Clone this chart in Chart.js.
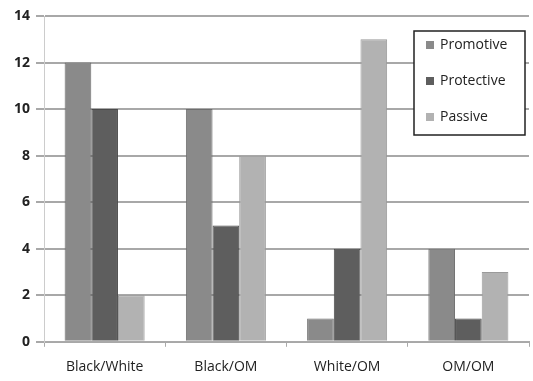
<!DOCTYPE html>
<html>
<head>
<meta charset="utf-8">
<script src="https://cdn.jsdelivr.net/npm/chart.js@4"></script>
<style>
  html, body { margin: 0; padding: 0; background: #fff; }
  #wrap { width: 533px; height: 381px; }
</style>
</head>
<body>
<div id="wrap"><canvas id="chart"></canvas></div>
<script>
const categories = ['Black/White', 'Black/OM', 'White/OM', 'OM/OM'];
const promotive = [12, 10, 1, 4];
const protective = [10, 5, 4, 1];
const passive = [2, 8, 13, 3];
const seriesNames = ['Promotive', 'Protective', 'Passive'];

const fills = ['#8a8a8a', '#5e5e5e', '#b2b2b2'];
const edges = ['#6e6e6e', '#4a4a4a', '#9a9a9a'];

// legend box drawn inside the plot, top right
const boxLegend = {
    id: 'boxLegend',
    afterDraw(chart) {
        const ctx = chart.ctx;
        const x = 414, y = 31, w = 111, h = 104;
        ctx.save();
        ctx.fillStyle = '#fff';
        ctx.fillRect(x, y, w, h);
        ctx.strokeStyle = '#222';
        ctx.lineWidth = 1.5;
        ctx.strokeRect(x, y, w, h);
        ctx.font = '14px "Open Sans", sans-serif';
        ctx.textBaseline = 'middle';
        chart.data.datasets.forEach((ds, i) => {
            const cy = y + 14 + i * 36;
            ctx.fillStyle = ds.backgroundColor;
            ctx.fillRect(x + 12, cy - 4, 8, 8);
            ctx.fillStyle = '#222';
            ctx.fillText(ds.label, x + 26, cy);
        });
        ctx.restore();
    }
};

const ctx = document.getElementById('chart').getContext('2d');
new Chart(ctx, {
    type: 'bar',
    data: {
        labels: categories,
        datasets: [promotive, protective, passive].map((d, i) => ({
            label: seriesNames[i],
            data: d,
            backgroundColor: fills[i],
            borderColor: edges[i],
            borderWidth: 1,
            barPercentage: 1,
            categoryPercentage: 0.66
        }))
    },
    options: {
        responsive: true,
        maintainAspectRatio: false,
        animation: false,
        layout: { padding: { top: 16, right: 4, left: 8, bottom: -6 } },
        plugins: {
            legend: { display: false },
            tooltip: { enabled: false }
        },
        scales: {
            x: {
                grid: {
                    offset: true,
                    drawOnChartArea: false,
                    color: '#aaa',
                    tickLength: 5
                },
                border: { color: '#aaa', width: 1 },
                ticks: {
                    color: '#222',
                    padding: 18,
                    font: { family: '"Open Sans", sans-serif', size: 14, lineHeight: 0.3 }
                }
            },
            y: {
                min: 0,
                max: 14,
                ticks: {
                    stepSize: 2,
                    color: '#222',
                    padding: 6,
                    font: { family: '"Open Sans", sans-serif', size: 14, weight: 'bold' }
                },
                grid: { color: '#a8a8a8', lineWidth: 2, tickLength: 8 },
                border: { color: '#ccc', width: 1 }
            }
        }
    },
    plugins: [boxLegend]
});
</script>
</body>
</html>
